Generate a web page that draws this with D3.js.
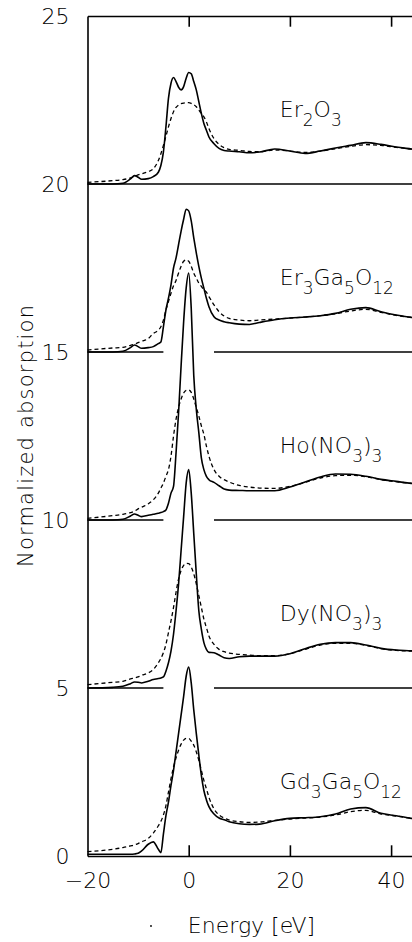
<!DOCTYPE html>
<html>
<head>
<meta charset="utf-8">
<script src="https://cdn.jsdelivr.net/npm/d3@7"></script>
<style>
  html, body { margin: 0; padding: 0; background: #fff; }
  svg { display: block; }
  text { font-family: "DejaVu Sans", sans-serif; font-weight: 200; fill: #000; }
</style>
</head>
<body>
<svg id="chart" width="412" height="942"></svg>
<script>
// ---------------- data ----------------
const energy = [-20, -15, -13, -11.5, -10.7, -10, -9.3, -8, -7, -6,
  -5.5, -5, -4.5, -4, -3.5, -3, -2.5, -2, -1.5, -1,
  -0.5, 0, 0.5, 1, 1.5, 2, 2.5, 3, 3.5, 4,
  5, 6, 7, 8, 10, 12, 14, 17, 20, 23,
  26, 29, 32, 35, 38, 41, 44, 45];

const compounds = ["Er2O3", "Er3Ga5O12", "Ho(NO3)3", "Dy(NO3)3", "Gd3Ga5O12"];
const offsets = [20, 15, 10, 5, 0];

// experimental (solid) curves, relative to each offset
const er2o3Solid = [0, 0, 0.02, 0.15, 0.25, 0.2, 0.14, 0.16, 0.22, 0.35,
  0.55, 0.95, 1.7, 2.55, 3.0, 3.17, 3.05, 2.88, 2.8, 2.9,
  3.15, 3.32, 3.28, 3.05, 2.8, 2.45, 2.1, 1.8, 1.6, 1.4,
  1.2, 1.06, 1.0, 0.98, 0.96, 0.93, 0.95, 1.04, 0.98, 0.91,
  0.98, 1.07, 1.15, 1.23, 1.18, 1.1, 1.04, 1.02];
const er3ga5o12Solid = [0, 0, 0.02, 0.13, 0.21, 0.16, 0.11, 0.13, 0.16, 0.25,
  0.3, 0.75, 1.25, 1.6, 2.0, 2.5, 2.8, 3.2, 3.6, 3.95,
  4.25, 4.2, 3.9, 3.4, 2.95, 2.55, 2.2, 1.9, 1.6, 1.35,
  1.05, 0.95, 0.9, 0.87, 0.83, 0.82, 0.88, 0.96, 1.01, 1.04,
  1.08, 1.15, 1.27, 1.32, 1.2, 1.1, 1.03, 1.02];
const hoSolid = [0, 0, 0.02, 0.12, 0.18, 0.14, 0.1, 0.14, 0.17, 0.2,
  0.22, 0.25, 0.3, 0.5, 0.8, 1.0, 2.0, 3.2, 4.6, 5.9,
  6.9, 7.35, 6.3, 4.3, 3.3, 2.6, 1.85, 1.5, 1.3, 1.2,
  1.12, 1.02, 0.92, 0.89, 0.88, 0.87, 0.87, 0.87, 0.98, 1.13,
  1.28, 1.37, 1.36, 1.3, 1.21, 1.15, 1.09, 1.08];
const dySolid = [0, 0.02, 0.05, 0.13, 0.18, 0.17, 0.15, 0.2, 0.25, 0.28,
  0.3, 0.33, 0.5, 0.75, 1.1, 1.6, 2.3, 3.1, 4.1, 5.1,
  6.1, 6.5, 5.8, 4.6, 3.4, 2.3, 1.75, 1.35, 1.15, 1.06,
  1.05, 0.98, 0.9, 0.88, 0.93, 0.95, 0.95, 0.95, 1.02, 1.17,
  1.3, 1.35, 1.35, 1.28, 1.18, 1.13, 1.11, 1.1];
const gdSolid = [0.05, 0.05, 0.05, 0.05, 0.06, 0.08, 0.15, 0.35, 0.42, 0.2,
  0.1, 0.65, 1.2, 1.6, 2.1, 2.55, 3.1, 3.65, 4.2, 4.75,
  5.35, 5.62, 5.15, 4.35, 3.65, 3.0, 2.4, 1.95, 1.67, 1.47,
  1.25, 1.13, 1.08, 1.02, 0.96, 0.94, 0.95, 1.05, 1.12, 1.14,
  1.17, 1.25, 1.4, 1.44, 1.27, 1.2, 1.12, 1.1];

// calculated (dashed) curves, relative to each offset
const er2o3Dashed = [0.05, 0.1, 0.13, 0.18, 0.22, 0.27, 0.3, 0.37, 0.45, 0.7,
  0.9, 1.15, 1.42, 1.7, 1.95, 2.15, 2.28, 2.35, 2.39, 2.41,
  2.42, 2.42, 2.4, 2.36, 2.3, 2.2, 2.1, 2.0, 1.85, 1.65,
  1.35, 1.18, 1.08, 1.03, 1.0, 0.97, 0.96, 1.01, 0.98, 0.94,
  0.98, 1.05, 1.12, 1.17, 1.15, 1.09, 1.04, 1.02];
const er3ga5o12Dashed = [0.06, 0.12, 0.14, 0.2, 0.23, 0.28, 0.32, 0.4, 0.55, 0.65,
  0.75, 0.95, 1.25, 1.5, 1.75, 1.97, 2.13, 2.35, 2.55, 2.7,
  2.74, 2.7, 2.55, 2.35, 2.2, 2.05, 1.95, 1.85, 1.78, 1.65,
  1.4, 1.2, 1.07, 1.0, 0.95, 0.93, 0.95, 0.98, 1.01, 1.04,
  1.08, 1.14, 1.22, 1.27, 1.18, 1.09, 1.03, 1.02];
const hoDashed = [0.05, 0.13, 0.17, 0.22, 0.26, 0.33, 0.38, 0.48, 0.6, 0.8,
  0.95, 1.1, 1.3, 1.5, 1.9, 2.5, 3.0, 3.35, 3.6, 3.78,
  3.86, 3.87, 3.8, 3.6, 3.35, 3.1, 2.8, 2.55, 2.2, 1.9,
  1.5, 1.3, 1.2, 1.13, 1.03, 0.98, 0.95, 0.94, 1.0, 1.12,
  1.25, 1.32, 1.33, 1.29, 1.2, 1.14, 1.09, 1.08];
const dyDashed = [0.1, 0.17, 0.2, 0.27, 0.3, 0.33, 0.38, 0.45, 0.55, 0.75,
  0.88, 1.05, 1.3, 1.65, 2.0, 2.4, 2.85, 3.25, 3.5, 3.65,
  3.71, 3.7, 3.6, 3.4, 3.1, 2.75, 2.4, 2.05, 1.8, 1.55,
  1.3, 1.15, 1.08, 1.04, 1.0, 0.98, 0.96, 0.96, 1.02, 1.15,
  1.28, 1.33, 1.33, 1.27, 1.17, 1.12, 1.1, 1.1];
const gdDashed = [0.13, 0.2, 0.25, 0.3, 0.33, 0.37, 0.42, 0.52, 0.68, 0.9,
  1.03, 1.22, 1.5, 1.9, 2.3, 2.65, 2.92, 3.15, 3.33, 3.45,
  3.5, 3.5, 3.42, 3.3, 3.1, 2.85, 2.55, 2.25, 2.0, 1.75,
  1.4, 1.22, 1.13, 1.07, 1.02, 1.0, 1.01, 1.06, 1.1, 1.13,
  1.16, 1.22, 1.32, 1.36, 1.25, 1.19, 1.12, 1.1];

const solidSeries = [er2o3Solid, er3ga5o12Solid, hoSolid, dySolid, gdSolid];
const dashedSeries = [er2o3Dashed, er3ga5o12Dashed, hoDashed, dyDashed, gdDashed];

// baseline segments drawn at each offset (energy ranges)
const baselineSegments = [
  [[-20, 45]],
  [[-20, -5], [5, 45]],
  [[-20, -5], [5, 45]],
  [[-20, -5], [5, 45]],
  []
];

const xTicks = [-20, 0, 20, 40];
const yTicks = [0, 5, 10, 15, 20, 25];
const xTitle = "Energy [eV]";
const yTitle = "Normalized absorption";

// ---------------- chart ----------------
const svg = d3.select("#chart");
const x = d3.scaleLinear().domain([-20, 45]).range([87.5, 416.4]);
const y = d3.scaleLinear().domain([0, 25]).range([856, 16]);

const line = d3.line()
  .x(d => x(d[0]))
  .y(d => y(d[1]))
  .curve(d3.curveMonotoneX);

const g = svg.append("g");

// baselines
baselineSegments.forEach((segs, i) => {
  segs.forEach(s => {
    g.append("line")
      .attr("x1", x(s[0])).attr("x2", x(s[1]))
      .attr("y1", y(offsets[i])).attr("y2", y(offsets[i]))
      .attr("stroke", "#000").attr("stroke-width", 1.6);
  });
});

// curves
compounds.forEach((name, i) => {
  const sol = energy.map((e, k) => [e, offsets[i] + solidSeries[i][k]]);
  const das = energy.map((e, k) => [e, offsets[i] + dashedSeries[i][k]]);
  g.append("path").attr("d", line(das))
    .attr("fill", "none").attr("stroke", "#000")
    .attr("stroke-width", 1.3).attr("stroke-dasharray", "4,3");
  g.append("path").attr("d", line(sol))
    .attr("fill", "none").attr("stroke", "#000")
    .attr("stroke-width", 1.6);
});

// axes
const axisStyle = sel => {
  sel.select(".domain").attr("stroke", "#000").attr("stroke-width", 1.6);
  sel.selectAll(".tick line").attr("stroke", "#000").attr("stroke-width", 1.6);
  sel.selectAll("text").attr("font-size", 22)
    .attr("font-family", "DejaVu Sans, sans-serif").attr("font-weight", 200);
};

svg.append("g").attr("transform", `translate(0,${y(0)})`)
  .call(d3.axisBottom(x).tickValues(xTicks).tickSizeInner(-10.7).tickSizeOuter(0)
    .tickPadding(16).tickFormat(d => d < 0 ? "\u2212" + Math.abs(d) : d))
  .call(axisStyle)
  .call(s => s.selectAll(".tick").filter(d => d === -20).select("line").remove());

svg.append("g").attr("transform", `translate(0,${y(25)})`)
  .call(d3.axisTop(x).tickValues(xTicks).tickSizeInner(-10.7).tickSizeOuter(0).tickFormat(""))
  .call(axisStyle)
  .call(s => s.selectAll(".tick").filter(d => d === -20).remove());

svg.append("g").attr("transform", `translate(${x(-20)},0)`)
  .call(d3.axisLeft(y).tickValues(yTicks).tickSizeInner(0).tickSizeOuter(0).tickPadding(18))
  .call(axisStyle);

// compound labels with subscripts
function addLabel(name, i) {
  const t = svg.append("text")
    .attr("x", x(18)).attr("y", y(offsets[i] + 2))
    .attr("font-size", 22);
  const parts = name.match(/\d+|[^\d]+/g);
  let sub = false;
  parts.forEach(p => {
    const isNum = /^\d+$/.test(p);
    const ts = t.append("tspan").text(p);
    if (isNum && !sub) { ts.attr("dy", 9).attr("font-size", 17); sub = true; }
    else if (isNum) { ts.attr("font-size", 17); }
    else if (sub) { ts.attr("dy", -9); sub = false; }
  });
}
compounds.forEach(addLabel);

// axis titles
svg.append("text")
  .attr("x", 251.5).attr("y", 933)
  .attr("text-anchor", "middle").attr("font-size", 22)
  .text(xTitle);

svg.append("text")
  .attr("transform", "translate(33,436) rotate(-90)")
  .attr("text-anchor", "middle").attr("font-size", 21)
  .attr("textLength", 262).attr("lengthAdjust", "spacing")
  .text(yTitle);

svg.append("circle").attr("cx", 151).attr("cy", 926).attr("r", 0.9).attr("fill", "#000");
</script>
</body>
</html>
